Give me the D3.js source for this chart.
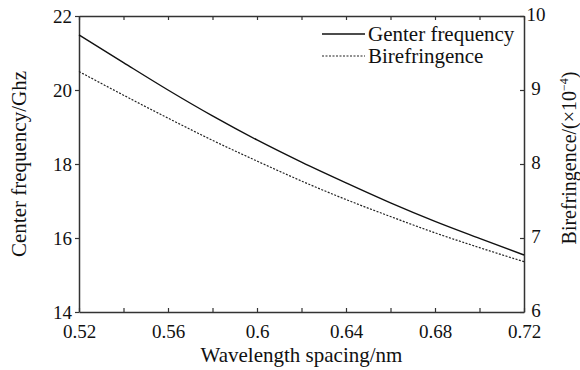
<!DOCTYPE html>
<html>
<head>
<meta charset="utf-8">
<title>Center frequency and birefringence</title>
<script src="https://d3js.org/d3.v7.min.js"></script>
<style>
    body { margin: 0; background: #fff; }
    text { font-family: "Liberation Serif", "Times New Roman", serif; fill: #111; }
    .domain, .tick line { stroke: #333; }
</style>
</head>
<body>
<svg width="580" height="370"></svg>
<script>
// data
const spacing = [0.52, 0.54, 0.56, 0.58, 0.60, 0.62, 0.64, 0.66, 0.68, 0.70, 0.72]
const centerFreq = [21.49, 20.74, 20.0, 19.30, 18.65, 18.05, 17.49, 16.95, 16.45, 15.99, 15.54]
const birefringence = [9.25, 8.93, 8.62, 8.32, 8.04, 7.77, 7.52, 7.29, 7.07, 6.87, 6.68]

const xTicks = [0.52, 0.56, 0.6, 0.64, 0.68, 0.72]
const xMinor = [0.54, 0.58, 0.62, 0.66, 0.70]
const yLeftTicks = [14, 16, 18, 20, 22]
const yRightTicks = [6, 7, 8, 9, 10]

const svg = d3.select("svg")
const margin = { top: 16, right: 56, bottom: 58, left: 79 }
const width = +svg.attr("width") - margin.left - margin.right
const height = +svg.attr("height") - margin.top - margin.bottom

const x = d3.scaleLinear().domain([0.52, 0.72]).range([0, width])
const yL = d3.scaleLinear().domain([14, 22]).range([height, 0])
const yR = d3.scaleLinear().domain([6, 10]).range([height, 0])

const g = svg.append("g").attr("transform", `translate(${margin.left},${margin.top})`)

const fmt = d => String(+d.toFixed(2))

// bottom axis, ticks pointing inward
const xAxis = g.append("g")
    .attr("transform", `translate(0,${height})`)
    .call(d3.axisBottom(x).tickValues(xTicks.concat(xMinor)).tickSizeInner(-4).tickSizeOuter(0)
        .tickFormat(d => xTicks.includes(+d.toFixed(2)) ? fmt(d) : ""))
xAxis.selectAll("text").attr("y", 13).style("font-size", "19px")

// top axis, ticks only
g.append("g")
    .call(d3.axisTop(x).tickValues(xTicks.concat(xMinor)).tickSizeInner(-4).tickSizeOuter(0).tickFormat(""))

// left axis
const yAxisL = g.append("g")
    .call(d3.axisLeft(yL).tickValues(yLeftTicks).tickSizeInner(4).tickSizeOuter(0))
yAxisL.selectAll("text").attr("x", -7).style("font-size", "19px")

// right axis
const yAxisR = g.append("g")
    .attr("transform", `translate(${width},0)`)
    .call(d3.axisRight(yR).tickValues(yRightTicks).tickSizeInner(-4).tickSizeOuter(0)
        .tickFormat(d3.format("d")))
yAxisR.selectAll("text").attr("x", 12).attr("dy", "0.25em")
    .attr("text-anchor", "middle").style("font-size", "19px")

svg.selectAll(".domain").attr("stroke-width", 1.5)
svg.selectAll(".tick line").attr("stroke-width", 1.2)

const lineC = d3.line()
    .x((d, i) => x(spacing[i]))
    .y(d => yL(d))
    .curve(d3.curveMonotoneX)
const lineB = d3.line()
    .x((d, i) => x(spacing[i]))
    .y(d => yR(d))
    .curve(d3.curveMonotoneX)

g.append("path").datum(centerFreq)
    .attr("d", lineC)
    .attr("fill", "none").attr("stroke", "#111").attr("stroke-width", 1.4)
g.append("path").datum(birefringence)
    .attr("d", lineB)
    .attr("fill", "none").attr("stroke", "#222").attr("stroke-width", 1.2)
    .attr("stroke-dasharray", "2,1.5")

// legend
const legend = g.append("g").attr("transform", "translate(243,18)")
legend.append("line").attr("x1", 0).attr("x2", 43).attr("y1", 0).attr("y2", 0)
    .attr("stroke", "#111").attr("stroke-width", 1.4)
legend.append("text").attr("x", 46).attr("y", 7).style("font-size", "21px").text("Genter frequency")
legend.append("line").attr("x1", 0).attr("x2", 43).attr("y1", 22).attr("y2", 22)
    .attr("stroke", "#222").attr("stroke-width", 1.2).attr("stroke-dasharray", "2,1.5")
legend.append("text").attr("x", 46).attr("y", 29).style("font-size", "21px").text("Birefringence")

// axis titles
svg.append("text")
    .attr("x", margin.left + width / 2)
    .attr("y", 362)
    .attr("text-anchor", "middle")
    .style("font-size", "21px")
    .text("Wavelength spacing/nm")

svg.append("text")
    .attr("transform", `translate(26,${margin.top + height / 2}) rotate(-90)`)
    .attr("text-anchor", "middle")
    .style("font-size", "21px")
    .text("Center frequency/Ghz")

const rt = svg.append("text")
    .attr("transform", `translate(576,158) rotate(-90)`)
    .attr("text-anchor", "middle")
    .style("font-size", "20px")
rt.append("tspan").text("Birefringence/(×10")
rt.append("tspan").attr("dy", -8).style("font-size", "12px").text("−4")
rt.append("tspan").attr("dy", 8).text(")")
</script>
</body>
</html>
